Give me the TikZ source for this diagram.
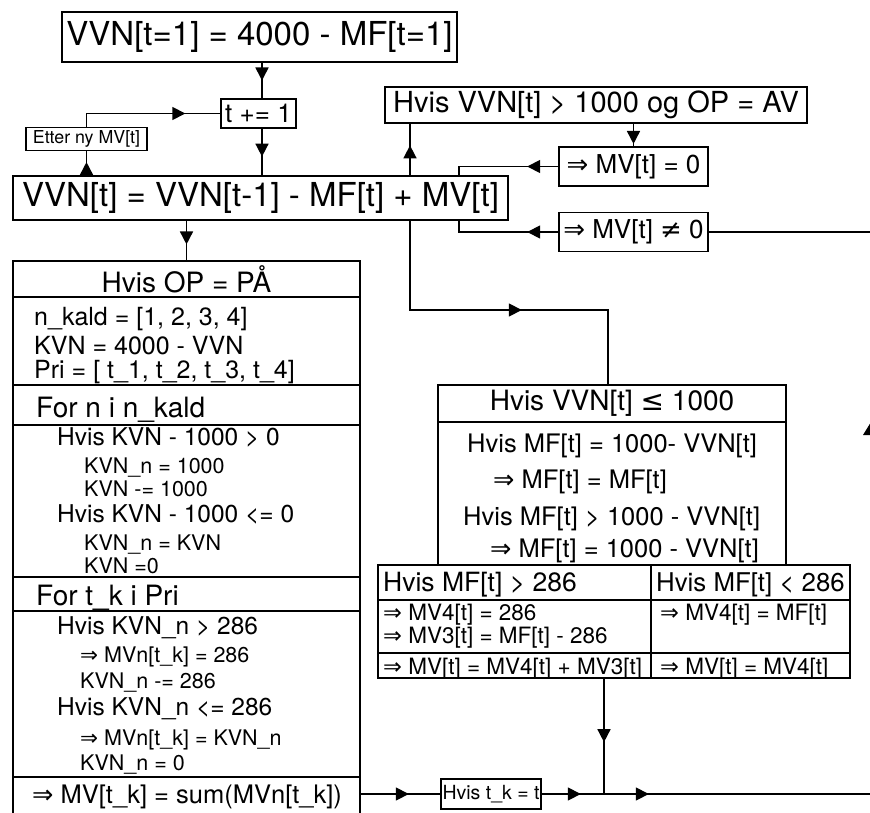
\documentclass[tikz,border=0pt]{standalone}
\usepackage{fontspec}
\setmainfont{TeX Gyre Heros}
\newfontfamily\symf{DejaVu Sans}
\usetikzlibrary{arrows.meta,decorations.markings}
\newcommand{\fsz}[1]{\fontsize{#1pt}{#1pt}\selectfont}
\newcommand{\impl}{{\symf ⇒}}
\newcommand{\neqs}{{\symf ≠}}
\newcommand{\leqs}{{\symf ≤}}
\tikzset{
  box/.style={draw, line width=1.6pt, inner sep=0pt, align=center},
  conn/.style={line width=1.6pt},
  arrat/.style={postaction={decorate,decoration={markings,mark=at position #1 with {\arrow{Triangle[length=13pt,width=13pt]}}}}},
  txt/.style={anchor=base west, inner sep=0pt},
}
\begin{document}
\begin{tikzpicture}[x=1pt,y=-1pt]
\useasboundingbox (0,0) rectangle (870,813);
\clip (0,0) rectangle (870,813);
\fill[white] (0,0) rectangle (870,813);

% helper coordinates
\coordinate (xa) at (262,0);
\coordinate (xb) at (410,0);
\coordinate (xc) at (459,0);
\coordinate (xd) at (608,0);
\coordinate (xe) at (604,0);
\coordinate (re1) at (885,0);
\coordinate (ya) at (0,310);
\coordinate (yb) at (0,794);

% top boxes
\node[box, minimum width=395pt, minimum height=50pt, font=\fsz{33}] (init) at (259.5,37) {VVN[t=1] = 4000 - MF[t=1]};
\node[box, minimum width=75pt, minimum height=29pt, font=\fsz{26}] (tplus) at (258.5,113.5) {t += 1};
\node[box, minimum width=121pt, minimum height=23pt, font=\fsz{17.8}] (etter) at (86.5,139) {Etter ny MV[t]};
\node[box, minimum width=495pt, minimum height=44pt, font=\fsz{33}] (vvn) at (260.5,198) {VVN[t] = VVN[t-1] - MF[t] + MV[t]};
\node[box, minimum width=422pt, minimum height=36pt, font=\fsz{29}] (hvisav) at (596,105) {Hvis VVN[t] > 1000 og OP = AV};
\node[box, minimum width=149pt, minimum height=39pt, font=\fsz{26}] (mv0) at (633.5,166.5) {\impl{} MV[t] = 0};
\node[box, minimum width=149pt, minimum height=39pt, font=\fsz{26}] (mvne) at (633.5,232) {\impl{} MV[t] \neqs{} 0};

% left big box
\node[box, minimum width=347pt, minimum height=36pt, font=\fsz{28}] (op) at (186.5,279) {Hvis OP = PÅ};
\node[box, minimum width=347pt, minimum height=88pt] (initb) at (186.5,341) {};
\node[box, minimum width=347pt, minimum height=40pt] (forn) at (186.5,405) {};
\node[box, minimum width=347pt, minimum height=152pt] (kvnb) at (186.5,501) {};
\node[box, minimum width=347pt, minimum height=34pt] (fortk) at (186.5,594) {};
\node[box, minimum width=347pt, minimum height=166pt] (tkb) at (186.5,694) {};
\node[box, minimum width=347pt, minimum height=60pt] (sum) at (186.5,807) {};

\node[txt, font=\fsz{25}] (l1) at (34,325) {n\_kald = [1, 2, 3, 4]};
\node[txt, font=\fsz{25}] (l2) at (34,354) {KVN = 4000 - VVN};
\node[txt, font=\fsz{25}] (l3) at (34,378) {Pri = [ t\_1, t\_2, t\_3, t\_4]};
\node[txt, font=\fsz{28}] (l4) at (36,417) {For n i n\_kald};
\node[txt, font=\fsz{24.5}] (l5) at (57,445) {Hvis KVN - 1000 > 0};
\node[txt, font=\fsz{21.5}] (l6) at (84,473) {KVN\_n = 1000};
\node[txt, font=\fsz{21.5}] (l7) at (84,496) {KVN -= 1000};
\node[txt, font=\fsz{24.5}] (l8) at (57,522) {Hvis KVN - 1000 <= 0};
\node[txt, font=\fsz{21.5}] (l9) at (84,550) {KVN\_n = KVN};
\node[txt, font=\fsz{21.5}] (l10) at (84,573) {KVN =0};
\node[txt, font=\fsz{28}] (l11) at (36,605) {For t\_k i Pri};
\node[txt, font=\fsz{24.5}] (l12) at (57,634) {Hvis KVN\_n > 286};
\node[txt, font=\fsz{21.5}] (l13) at (80,662) {\impl{} MVn[t\_k] = 286};
\node[txt, font=\fsz{21.5}] (l14) at (80,688) {KVN\_n -= 286};
\node[txt, font=\fsz{24.5}] (l15) at (57,715) {Hvis KVN\_n <= 286};
\node[txt, font=\fsz{21.5}] (l16) at (80,745) {\impl{} MVn[t\_k] = KVN\_n};
\node[txt, font=\fsz{21.5}] (l17) at (80,770) {KVN\_n = 0};
\node[txt, font=\fsz{25.5}] (l18) at (32,803) {\impl{} MV[t\_k] = sum(MVn[t\_k])};

% right table
\node[box, minimum width=348pt, minimum height=37pt, font=\fsz{28}] (hvisle) at (612,403.5) {Hvis VVN[t] \leqs{} 1000};
\node[box, minimum width=348pt, minimum height=143pt] (hvisleb) at (612,493.5) {};
\node[txt, font=\fsz{25.5}] (r1) at (467,452) {Hvis MF[t] = 1000- VVN[t]};
\node[txt, font=\fsz{25.5}] (r2) at (493,488) {\impl{} MF[t] = MF[t]};
\node[txt, font=\fsz{25.5}] (r3) at (463,525) {Hvis MF[t] > 1000 - VVN[t]};
\node[txt, font=\fsz{25.5}] (r4) at (490,557) {\impl{} MF[t] = 1000 - VVN[t]};

\node[box, minimum width=273pt, minimum height=35pt] (hr1) at (514.5,582.5) {};
\node[box, minimum width=199pt, minimum height=35pt] (hr2) at (750.5,582.5) {};
\node[box, minimum width=273pt, minimum height=53pt] (br1) at (514.5,626.5) {};
\node[box, minimum width=199pt, minimum height=53pt] (br2) at (750.5,626.5) {};
\node[box, minimum width=273pt, minimum height=25pt] (lr1) at (514.5,665.5) {};
\node[box, minimum width=199pt, minimum height=25pt] (lr2) at (750.5,665.5) {};
\node[txt, font=\fsz{26.5}] (s1) at (383,591) {Hvis MF[t] > 286};
\node[txt, font=\fsz{25.8}] (s2) at (656,591) {Hvis MF[t] < 286};
\node[txt, font=\fsz{22.5}] (s3) at (383,620) {\impl{} MV4[t] = 286};
\node[txt, font=\fsz{22.5}] (s4) at (383,643) {\impl{} MV3[t] = MF[t] - 286};
\node[txt, font=\fsz{22.5}] (s5) at (660,620) {\impl{} MV4[t] = MF[t]};
\node[txt, font=\fsz{22.5}] (s6) at (383,674) {\impl{} MV[t] = MV4[t] + MV3[t]};
\node[txt, font=\fsz{22.5}] (s7) at (660,674) {\impl{} MV[t] = MV4[t]};

\node[box, minimum width=100pt, minimum height=30pt, font=\fsz{19.5}] (tk) at (491,794) {Hvis t\_k = t};

% connectors
\draw[conn, arrat=0.5] (init.south -| xa) -- (tplus.north -| xa);
\draw[conn, arrat=0.6] (tplus.south -| xa) -- (vvn.north -| xa);
\draw[conn, arrat=0.55] (vvn.north -| etter.south) -- (etter.south);
\draw[conn, arrat=112pt] (etter.north) |- (tplus.west);
\draw[conn, arrat=0.58] (vvn.north -| xb) -- (hvisav.south -| xb);
\draw[conn, arrat=0.9] (hvisav.south -| mv0.north) -- (mv0.north);
\draw[conn, arrat=31pt] (mv0.west) -| (vvn.north -| xc);
\draw[conn, arrat=31pt] (mvne.west) -| (vvn.south -| xc);
\draw[conn] (mvne.east) -- (mvne.east -| re1);
\draw[conn, arrat=0.6] (vvn.south -| op.north) -- (op.north);
\draw[conn, arrat=201pt] (vvn.south -| xb) |- (ya -| xd) -- (hvisle.north -| xd);
\draw[conn, arrat=48pt] (sum.east |- yb) -- (tk.west);
\draw[conn, arrat=39pt, arrat=107pt] (tk.east) -- (tk.east -| re1);
\draw[conn, arrat=0.55] (lr1.south -| xe) -- (tk.east -| xe);

% clipped arrowhead at right edge
\fill (863,435) -- (871,422) -- (879,435) -- cycle;
\end{tikzpicture}
\end{document}
